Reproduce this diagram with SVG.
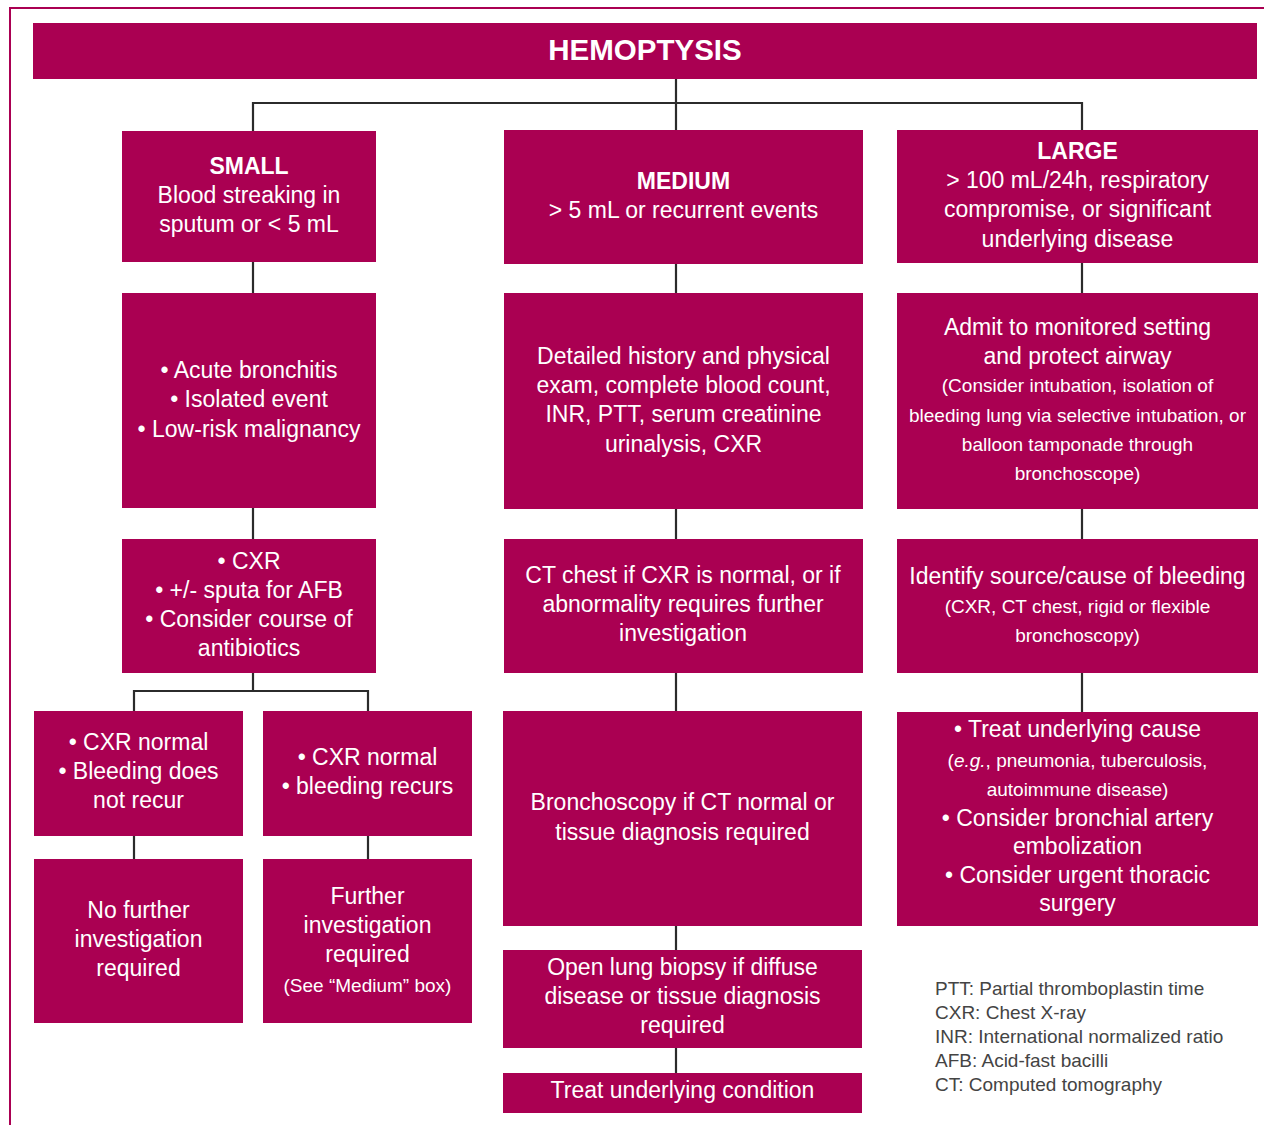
<svg xmlns="http://www.w3.org/2000/svg" width="1264" height="1125" viewBox="0 0 1264 1125">
<style>
.box{fill:#AA0052;}
.t{font-family:"Liberation Sans",Arial,Helvetica,sans-serif;font-size:23px;fill:#ffffff;text-anchor:middle;}
.s{font-size:19px;}
.b{font-weight:bold;}
.h{font-family:"Liberation Sans",Arial,Helvetica,sans-serif;font-size:29.5px;font-weight:bold;fill:#ffffff;text-anchor:middle;}
.lg{font-family:"Liberation Sans",Arial,Helvetica,sans-serif;font-size:19px;fill:#444444;}
.c{fill:none;stroke:#2b2b2b;stroke-width:2.2;}
</style>
<rect x="0" y="0" width="1264" height="1125" fill="#ffffff"/>
<path d="M10,1125 V8 H1264" fill="none" stroke="#AA0052" stroke-width="2"/>

<g id="connectors">
<path class="c" d="M676,79 V103 M253,131 V103 H1082 V130 M676,103 V130"/>
<path class="c" d="M253,262 V293 M253,508 V539 M253,673 V691 M134,711 V691 H368 V711 M134,836 V859 M368,836 V859"/>
<path class="c" d="M676,264 V293 M676,509 V539 M676,673 V711 M676,926 V950 M676,1048 V1073"/>
<path class="c" d="M1082,263 V293 M1082,509 V539 M1082,673 V712"/>
</g>

<g id="header">
<rect class="box" x="33" y="23" width="1224" height="56"/>
<text class="h" x="645" y="59.5">HEMOPTYSIS</text>
</g>

<g id="small">
<rect class="box" x="122" y="131" width="254" height="131"/>
<text class="t" x="249" y="174"><tspan class="b">SMALL</tspan><tspan x="249" y="203">Blood streaking in</tspan><tspan x="249" y="232">sputum or &lt; 5 mL</tspan></text>
</g>
<g id="small-causes">
<rect class="box" x="122" y="293" width="254" height="215"/>
<text class="t" x="249" y="378">• Acute bronchitis<tspan x="249" y="407">• Isolated event</tspan><tspan x="249" y="437">• Low-risk malignancy</tspan></text>
</g>
<g id="small-workup">
<rect class="box" x="122" y="539" width="254" height="134"/>
<text class="t" x="249" y="569">• CXR<tspan x="249" y="598">• +/- sputa for AFB</tspan><tspan x="249" y="627">• Consider course of</tspan><tspan x="249" y="656">antibiotics</tspan></text>
</g>
<g id="small-norecur">
<rect class="box" x="34" y="711" width="209" height="125"/>
<text class="t" x="138.5" y="750">• CXR normal<tspan x="138.5" y="779">• Bleeding does</tspan><tspan x="138.5" y="808">not recur</tspan></text>
</g>
<g id="small-recur">
<rect class="box" x="263" y="711" width="209" height="125"/>
<text class="t" x="367.5" y="765">• CXR normal<tspan x="367.5" y="794">• bleeding recurs</tspan></text>
</g>
<g id="small-nofurther">
<rect class="box" x="34" y="859" width="209" height="164"/>
<text class="t" x="138.5" y="918">No further<tspan x="138.5" y="947">investigation</tspan><tspan x="138.5" y="976">required</tspan></text>
</g>
<g id="small-further">
<rect class="box" x="263" y="859" width="209" height="164"/>
<text class="t" x="367.5" y="904">Further<tspan x="367.5" y="933">investigation</tspan><tspan x="367.5" y="962">required</tspan><tspan class="s" x="367.5" y="992">(See “Medium” box)</tspan></text>
</g>

<g id="medium">
<rect class="box" x="504" y="130" width="359" height="134"/>
<text class="t" x="683.5" y="189"><tspan class="b">MEDIUM</tspan><tspan x="683.5" y="218">&gt; 5 mL or recurrent events</tspan></text>
</g>
<g id="medium-history">
<rect class="box" x="504" y="293" width="359" height="216"/>
<text class="t" x="683.5" y="364">Detailed history and physical<tspan x="683.5" y="393">exam, complete blood count,</tspan><tspan x="683.5" y="422">INR, PTT, serum creatinine</tspan><tspan x="683.5" y="452">urinalysis, CXR</tspan></text>
</g>
<g id="medium-ct">
<rect class="box" x="504" y="539" width="359" height="134"/>
<text class="t" x="683" y="583">CT chest if CXR is normal, or if<tspan x="683" y="612">abnormality requires further</tspan><tspan x="683" y="641">investigation</tspan></text>
</g>
<g id="medium-bronch">
<rect class="box" x="503" y="711" width="359" height="215"/>
<text class="t" x="682.5" y="810">Bronchoscopy if CT normal or<tspan x="682.5" y="840">tissue diagnosis required</tspan></text>
</g>
<g id="medium-biopsy">
<rect class="box" x="503" y="950" width="359" height="98"/>
<text class="t" x="682.5" y="975">Open lung biopsy if diffuse<tspan x="682.5" y="1004">disease or tissue diagnosis</tspan><tspan x="682.5" y="1033">required</tspan></text>
</g>
<g id="medium-treat">
<rect class="box" x="503" y="1073" width="359" height="40"/>
<text class="t" x="682.5" y="1098">Treat underlying condition</text>
</g>

<g id="large">
<rect class="box" x="897" y="130" width="361" height="133"/>
<text class="t" x="1077.5" y="159"><tspan class="b">LARGE</tspan><tspan x="1077.5" y="188">&gt; 100 mL/24h, respiratory</tspan><tspan x="1077.5" y="217">compromise, or significant</tspan><tspan x="1077.5" y="247">underlying disease</tspan></text>
</g>
<g id="large-admit">
<rect class="box" x="897" y="293" width="361" height="216"/>
<text class="t" x="1077.5" y="335">Admit to monitored setting<tspan x="1077.5" y="364">and protect airway</tspan><tspan class="s" x="1077.5" y="392">(Consider intubation, isolation of</tspan><tspan class="s" x="1077.5" y="421.5">bleeding lung via selective intubation, or</tspan><tspan class="s" x="1077.5" y="451">balloon tamponade through</tspan><tspan class="s" x="1077.5" y="480">bronchoscope)</tspan></text>
</g>
<g id="large-identify">
<rect class="box" x="897" y="539" width="361" height="134"/>
<text class="t" x="1077.5" y="584">Identify source/cause of bleeding<tspan class="s" x="1077.5" y="613">(CXR, CT chest, rigid or flexible</tspan><tspan class="s" x="1077.5" y="642">bronchoscopy)</tspan></text>
</g>
<g id="large-treat">
<rect class="box" x="897" y="712" width="361" height="214"/>
<text class="t" x="1077.5" y="737">• Treat underlying cause<tspan class="s" x="1077.5" y="767">(<tspan font-style="italic">e.g.</tspan>, pneumonia, tuberculosis,</tspan><tspan class="s" x="1077.5" y="796">autoimmune disease)</tspan><tspan x="1077.5" y="826">• Consider bronchial artery</tspan><tspan x="1077.5" y="854">embolization</tspan><tspan x="1077.5" y="883">• Consider urgent thoracic</tspan><tspan x="1077.5" y="911">surgery</tspan></text>
</g>

<g id="legend">
<text class="lg" x="935" y="995">PTT: Partial thromboplastin time</text>
<text class="lg" x="935" y="1019">CXR: Chest X-ray</text>
<text class="lg" x="935" y="1043">INR: International normalized ratio</text>
<text class="lg" x="935" y="1067">AFB: Acid-fast bacilli</text>
<text class="lg" x="935" y="1091">CT: Computed tomography</text>
</g>
</svg>
